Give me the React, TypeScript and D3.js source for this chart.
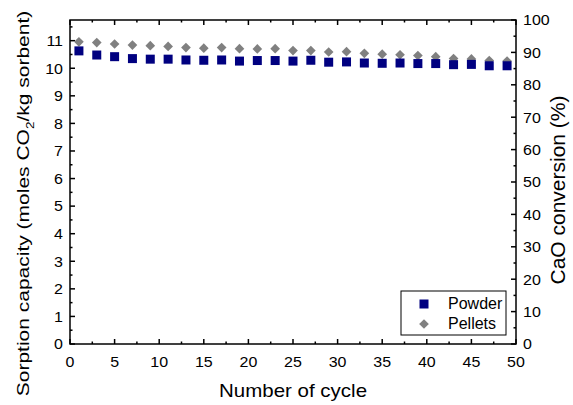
import React from "react";
import * as d3 from "d3";

const cycles = [1, 3, 5, 7, 9, 11, 13, 15, 17, 19, 21, 23, 25, 27, 29, 31, 33, 35, 37, 39, 41, 43, 45, 47, 49];
const powder = [10.63, 10.48, 10.42, 10.35, 10.33, 10.33, 10.3, 10.29, 10.3, 10.26, 10.28, 10.28, 10.26, 10.29, 10.22, 10.23, 10.19, 10.18, 10.19, 10.17, 10.17, 10.13, 10.14, 10.09, 10.09];
const pellets = [10.96, 10.93, 10.88, 10.84, 10.82, 10.79, 10.75, 10.73, 10.75, 10.71, 10.7, 10.71, 10.64, 10.64, 10.59, 10.6, 10.54, 10.51, 10.49, 10.46, 10.42, 10.35, 10.34, 10.28, 10.26];
const xTicks = [0, 5, 10, 15, 20, 25, 30, 35, 40, 45, 50];
const yLeftTicks = [0, 1, 2, 3, 4, 5, 6, 7, 8, 9, 10, 11];
const yRightTicks = [0, 10, 20, 30, 40, 50, 60, 70, 80, 90, 100];
const seriesNames = ["Powder", "Pellets"];

const W = 573, H = 405;
const L = 70, R = 516, T = 20, B = 344;
const FONT = "'Liberation Sans', Arial, sans-serif";

export default function App() {
  const x = d3.scaleLinear().domain([0, 50]).range([L, R]);
  const yL = d3.scaleLinear().domain([0, 11.75]).range([B, T]);
  const yR = d3.scaleLinear().domain([0, 100]).range([B, T]);
  const xMinor = d3.range(0, 50.01, 2.5);
  const yLMinor = d3.range(0, 11.76, 0.5);
  const yRMinor = d3.range(0, 100.01, 5);
  const diamond = d3.symbol().type(d3.symbolDiamond2).size(60)();
  const sq = 9;
  const ax = { stroke: "#000", strokeWidth: 1.5, fill: "none" } as any;
  const tickFs = 16;
  const tickSy = 0.93;

  return (
    <svg width={W} height={H} style={{ position: "absolute", left: 0, top: 0, background: "#fff" }} fontFamily={FONT}>
      {/* ticks */}
      {xMinor.map((v) => {
        const major = v % 5 === 0;
        const len = major ? 5 : 2.5;
        return (
          <g key={"x" + v}>
            <line x1={x(v)} x2={x(v)} y1={B} y2={B - len} {...ax} />
            <line x1={x(v)} x2={x(v)} y1={T} y2={T + len} {...ax} />
          </g>
        );
      })}
      {yLMinor.map((v) => {
        const major = Math.abs(v - Math.round(v)) < 1e-6;
        const len = major ? 5 : 2.5;
        return <line key={"yl" + v} x1={L} x2={L + len} y1={yL(v)} y2={yL(v)} {...ax} />;
      })}
      {yRMinor.map((v) => {
        const major = v % 10 === 0;
        const len = major ? 5 : 2.5;
        return <line key={"yr" + v} x1={R} x2={R - len} y1={yR(v)} y2={yR(v)} {...ax} />;
      })}
      <rect x={L} y={T} width={R - L} height={B - T} {...ax} />
      {/* tick labels */}
      {xTicks.map((v) => (
        <text key={"xt" + v} transform={`translate(${x(v)}, 366.5) scale(1, ${tickSy})`} textAnchor="middle" fontSize={tickFs}>{v}</text>
      ))}
      {yLeftTicks.map((v) => (
        <text key={"ylt" + v} transform={`translate(63, ${yL(v) + 5.3}) scale(1, ${tickSy})`} textAnchor="end" fontSize={tickFs}>{v}</text>
      ))}
      {yRightTicks.map((v) => (
        <text key={"yrt" + v} transform={`translate(523, ${yR(v) + 5.3}) scale(1, ${tickSy})`} textAnchor="start" fontSize={tickFs}>{v}</text>
      ))}
      {/* titles */}
      <text transform={`translate(293, 397) scale(1, 0.9)`} textAnchor="middle" fontSize={20.5}>Number of cycle</text>
      <text transform={`translate(29, 203.5) rotate(-90) scale(1, 0.78)`} textAnchor="middle" fontSize={21}>
        Sorption capacity (moles CO<tspan fontSize={13.5} dy={6}>2</tspan><tspan dy={-6}>/kg sorbent)</tspan>
      </text>
      <text transform={`translate(565, 190) rotate(-90)`} textAnchor="middle" fontSize={21}>CaO conversion (%)</text>
      {/* data */}
      {cycles.map((c, i) => (
        <path key={"pe" + c} d={diamond!} transform={`translate(${x(c)}, ${yL(pellets[i])})`} fill="#808080" />
      ))}
      {cycles.map((c, i) => (
        <rect key={"po" + c} x={x(c) - sq / 2} y={yL(powder[i]) - sq / 2} width={sq} height={sq} fill="#000080" />
      ))}
      {/* legend */}
      <rect x={401} y={291} width={105} height={44} fill="#fff" stroke="#000" strokeWidth={1} />
      <rect x={424 - sq / 2} y={304 - sq / 2} width={sq} height={sq} fill="#000080" />
      <path d={diamond!} transform="translate(424, 324)" fill="#808080" />
      <text x={448} y={309} fontSize={16}>{seriesNames[0]}</text>
      <text x={448} y={329} fontSize={16}>{seriesNames[1]}</text>
    </svg>
  );
}
